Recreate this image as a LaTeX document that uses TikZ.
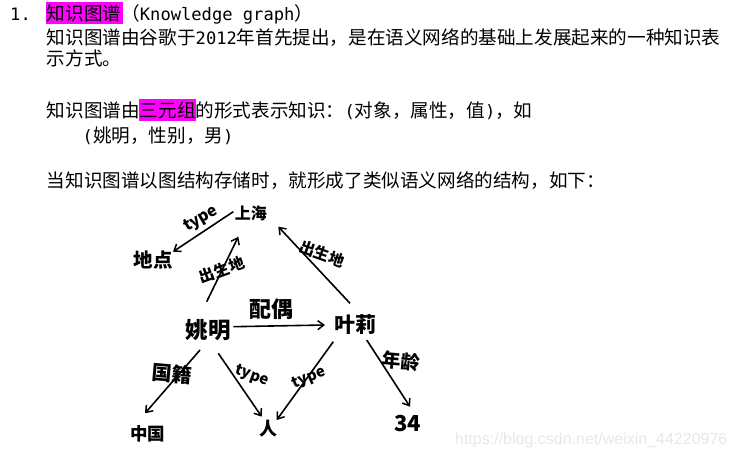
\documentclass[tikz,border=0pt]{standalone}
\usepackage{fontspec}
\setmainfont{Noto Sans CJK SC}
\newfontfamily\monof{DejaVu Sans Mono}[Scale=0.92]
\newfontfamily\wmfont{Liberation Sans}
\usetikzlibrary{arrows.meta}
\definecolor{hl}{HTML}{FF00FF}
\begin{document}
\begin{tikzpicture}[x=1pt,y=-1pt,
  txt/.style={anchor=base west,inner sep=0pt,font=\fontsize{18.6}{22}\selectfont},
  hand/.style={inner sep=1pt,font=\bfseries\fontsize{#1}{#1}\selectfont},
  hand/.default=18,
  elab/.style={inner sep=0pt,font=\bfseries\fontsize{#1}{#1}\selectfont},
  elab/.default=16,
  arr/.style={line width=1.6pt,-{Straight Barb[length=6pt,width=9pt,line width=1.5pt]}}]
\useasboundingbox[fill=white] (0,0) rectangle (736,457);
% highlights
\fill[hl] (45.7,2.3) rectangle (123.3,24.3);
\fill[hl] (139.3,99.5) rectangle (195.7,121.5);
% text lines
\node[txt] (n1) at (10,20.3) {\monof 1.};
\node[txt] (l1) at (46.7,20.3) {知识图谱（{\monof Knowledge graph}）};
\node[txt] (l2) at (46.7,44.5) {知识图谱由谷歌于{\monof 2012}年首先提出，是在语义网络的基础上发展起来的一种知识表};
\node[txt] (l3) at (46.7,66) {示方式。};
\node[txt] (l4) at (46.7,117.5) {知识图谱由三元组的形式表示知识：{\monof(}对象，属性，值{\monof)}，如};
\node[txt] (l5) at (82.5,142.5) {{\monof(}姚明，性别，男{\monof)}};
\node[txt] (l6) at (46.7,187.7) {当知识图谱以图结构存储时，就形成了类似语义网络的结构，如下：};
% graph nodes
\node[hand=16] (sh) at (250.8,213.3) {上海};
\node[hand=19.5] (dd) at (153.3,260) {地点};
\node[hand=22.5] (ym) at (208.3,330) {姚明};
\node[hand=21] (yl) at (355,325) {叶莉};
\node[hand=17.5] (zg) at (147.5,434) {中国};
\node[hand=18] (ren) at (268,429) {人};
\node[hand=22] (n34) at (407.5,424) {34};
% edges
\draw[arr] ([shift={(-17.5,-1.6)}]sh.center) -- ([shift={(19.7,-8.3)}]dd.center);
\draw[arr] ([shift={(-1.6,-28.3)}]ym.center) -- ([shift={(-12.5,23.4)}]sh.center);
\draw[arr] ([shift={(-5,-21.7)}]yl.center) -- ([shift={(27.5,13.4)}]sh.center);
\draw[arr] ([shift={(25,-3.3)}]ym.center) -- ([shift={(-30,0)}]yl.center);
\draw[arr] ([shift={(-8.3,20)}]ym.center) -- ([shift={(-2.5,-20.7)}]zg.center);
\draw[arr] ([shift={(10,23.3)}]ym.center) -- ([shift={(-6.3,-12.3)}]ren.center);
\draw[arr] ([shift={(-21.7,16.7)}]yl.center) -- ([shift={(8.7,-9)}]ren.center);
\draw[arr] ([shift={(11.7,15)}]yl.center) -- ([shift={(2.5,-17.3)}]n34.center);
% edge labels
\node[elab=16,rotate=30] (e1) at (201,219) {type};
\node[elab=15.5,rotate=20] (e2) at (221.7,270) {出生地};
\node[elab=15.5,rotate=-20] (e3) at (322,254) {出生地};
\node[elab=22] (e4) at (271.7,309) {配偶};
\node[elab=20,rotate=-5] (e5) at (172,374) {国籍};
\node[elab=15,rotate=-20] (e6) at (252,376) {type};
\node[elab=15,rotate=23] (e7) at (309,378) {type};
\node[elab=19,rotate=-5] (e8) at (401,361) {年龄};
% watermark
\node[anchor=base west,inner sep=0pt,text=black!9,font=\wmfont\fontsize{16}{16}\selectfont] (wm) at (455,444) {https://blog.csdn.net/weixin\_44220976};
\end{tikzpicture}
\end{document}
